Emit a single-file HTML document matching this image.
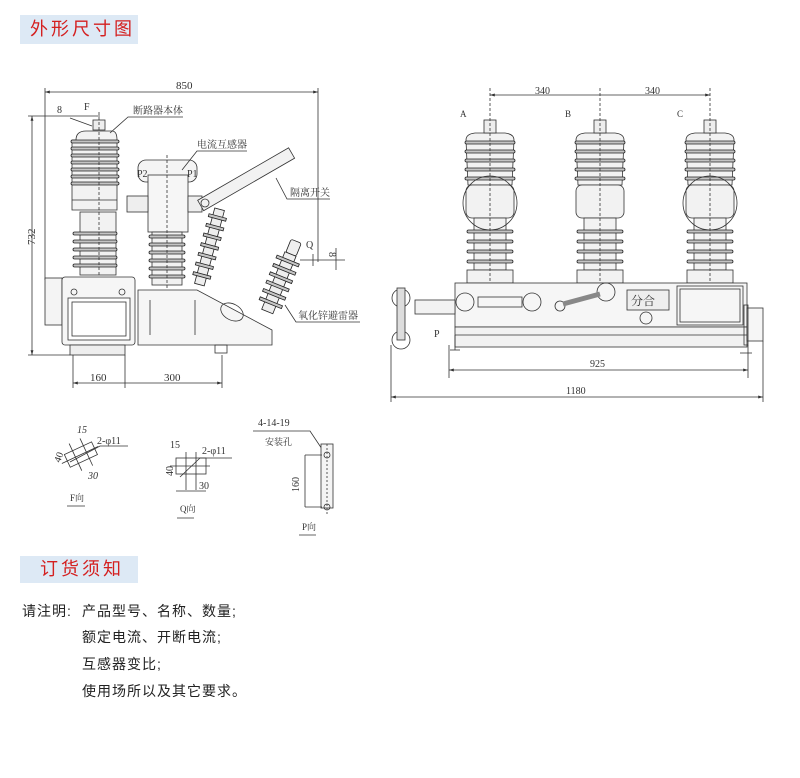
<!DOCTYPE html>
<html><head><meta charset="utf-8"><style>
body{margin:0;background:#fff;width:800px;height:778px;overflow:hidden;font-family:"Liberation Sans","Noto Sans CJK SC",sans-serif}
.hd{position:absolute;left:20px;width:118px;background:#dde9f5;color:#d42020;font-size:18px;letter-spacing:3px}
.t{position:absolute;font-size:14px;color:#222;letter-spacing:1px}
svg{position:absolute;left:0;top:0}
.fn rect{fill:#c4c4c4;stroke:#222}
</style></head><body>
<div class="hd" style="top:15px;height:29px;line-height:29px;padding-left:10px;width:108px">外形尺寸图</div>
<div class="hd" style="top:556px;height:27px;line-height:27px;padding-left:20px;width:98px">订货须知</div>
<div class="t" style="left:22px;top:601px">请注明:</div>
<div class="t" style="left:82px;top:601px">产品型号、名称、数量;</div>
<div class="t" style="left:82px;top:627px">额定电流、开断电流;</div>
<div class="t" style="left:82px;top:654px">互感器变比;</div>
<div class="t" style="left:82px;top:681px">使用场所以及其它要求。</div>
<svg width="800" height="778" viewBox="0 0 800 778" font-family="Liberation Serif,Noto Serif CJK SC,serif" font-size="10" fill="none" stroke="#333" stroke-width="0.8">
<defs>
<marker id="a" viewBox="0 0 10 10" refX="10" refY="5" markerWidth="6" markerHeight="6" orient="auto-start-reverse"><path d="M0,2L10,5L0,8z" fill="#333" stroke="none"/></marker>
</defs>
<g>
<line x1="45" y1="92" x2="318" y2="92" marker-start="url(#a)" marker-end="url(#a)"/>
<line x1="45" y1="88" x2="45" y2="280"/><line x1="318" y1="88" x2="318" y2="262"/>
<line x1="28" y1="116" x2="100" y2="116"/><line x1="28" y1="355" x2="70" y2="355"/>
<line x1="32" y1="116" x2="32" y2="355" marker-start="url(#a)" marker-end="url(#a)"/>
<text x="176" y="89" fill="#333" stroke="none" font-size="11">850</text>
<text x="0" y="0" fill="#333" stroke="none" font-size="11" transform="translate(35,245) rotate(-90)">732</text>
<text x="57" y="113" fill="#333" stroke="none">8</text><text x="84" y="110" fill="#333" stroke="none">F</text>
<line x1="70" y1="118" x2="92" y2="126"/>
<rect x="93" y="120" width="12" height="10" fill="#eee"/>
<path d="M76,140 Q76,131 86,131 L112,131 Q117,131 117,140 L117,210 L72,210 L72,140z" fill="#f2f2f2"/>
<g class="fn"><rect x="71" y="140" width="48" height="3" rx="1.5"/><rect x="71" y="147" width="48" height="3" rx="1.5"/><rect x="71" y="154" width="48" height="3" rx="1.5"/><rect x="71" y="161" width="48" height="3" rx="1.5"/><rect x="71" y="168" width="48" height="3" rx="1.5"/><rect x="71" y="175" width="48" height="3" rx="1.5"/><rect x="71" y="182" width="48" height="3" rx="1.5"/></g>
<line x1="72" y1="200" x2="117" y2="200"/>
<rect x="80" y="212" width="36" height="63" fill="#f2f2f2"/>
<g class="fn"><rect x="73" y="232" width="44" height="3" rx="1.5"/><rect x="73" y="240" width="44" height="3" rx="1.5"/><rect x="73" y="248" width="44" height="3" rx="1.5"/><rect x="73" y="256" width="44" height="3" rx="1.5"/><rect x="73" y="264" width="44" height="3" rx="1.5"/></g>
<line x1="99" y1="112" x2="99" y2="300" stroke-dasharray="3,2"/>
<rect x="45" y="278" width="17" height="47" fill="#f4f4f4"/>
<rect x="62" y="277" width="73" height="68" rx="3" fill="#f6f6f6"/>
<rect x="68" y="298" width="62" height="42" fill="#fff"/><rect x="72" y="302" width="54" height="34"/>
<rect x="70" y="345" width="55" height="10" fill="#eee"/>
<circle cx="74" cy="292" r="3"/><circle cx="122" cy="292" r="3"/>
<rect x="138" y="160" width="59" height="22" rx="8" fill="#f4f4f4"/>
<rect x="148" y="175" width="40" height="57" fill="#f6f6f6"/>
<text x="137" y="177" fill="#333" stroke="none">P2</text><text x="187" y="177" fill="#333" stroke="none">P1</text>
<rect x="127" y="196" width="21" height="16" fill="#eee"/><rect x="188" y="196" width="14" height="16" fill="#eee"/>
<rect x="152" y="232" width="30" height="53" fill="#f2f2f2"/>
<g class="fn"><rect x="149" y="235" width="36" height="3" rx="1.5"/><rect x="149" y="243" width="36" height="3" rx="1.5"/><rect x="149" y="251" width="36" height="3" rx="1.5"/><rect x="149" y="259" width="36" height="3" rx="1.5"/><rect x="149" y="267" width="36" height="3" rx="1.5"/><rect x="149" y="275" width="36" height="3" rx="1.5"/></g>
<line x1="167" y1="155" x2="167" y2="295" stroke-dasharray="3,2"/>
<path d="M138,290 L197,290 L272,330 L272,345 L138,345z" fill="#f6f6f6"/>
<line x1="150" y1="300" x2="150" y2="335"/><line x1="195" y1="300" x2="195" y2="335"/>
<rect x="215" y="345" width="12" height="8"/>
<ellipse cx="232" cy="312" rx="12" ry="8" transform="rotate(28 232 312)"/>
<g transform="rotate(-30 205 203)"><rect x="200" y="197" width="105" height="12" fill="#f2f2f2"/></g>
<circle cx="205" cy="203" r="4"/>
<g transform="rotate(15 210 245)" class="fn"><rect x="205" y="208" width="10" height="78" style="fill:#eee"/><rect x="201" y="215" width="18" height="3"/><rect x="201" y="225" width="18" height="3"/><rect x="201" y="235" width="18" height="3"/><rect x="201" y="245" width="18" height="3"/><rect x="201" y="255" width="18" height="3"/><rect x="201" y="265" width="18" height="3"/><rect x="201" y="275" width="18" height="3"/></g>
<g transform="rotate(22 280 280)" class="fn"><rect x="275" y="238" width="11" height="14" rx="2" style="fill:#eee"/><rect x="274" y="252" width="12" height="62" style="fill:#eee"/><rect x="268" y="258" width="24" height="3"/><rect x="268" y="267" width="24" height="3"/><rect x="268" y="276" width="24" height="3"/><rect x="268" y="285" width="24" height="3"/><rect x="268" y="294" width="24" height="3"/><rect x="268" y="303" width="24" height="3"/></g>
<line x1="300" y1="260" x2="345" y2="260"/><line x1="336" y1="248" x2="336" y2="270"/><line x1="313" y1="254" x2="313" y2="266"/>
<text x="306" y="248" fill="#333" stroke="none">Q</text><text x="0" y="0" fill="#333" stroke="none" transform="translate(329,252) rotate(90)">8</text>
<text x="133" y="114" fill="#333" stroke="none">断路器本体</text><polyline points="110,133 128,117 183,117"/>
<text x="197" y="148" fill="#333" stroke="none">电流互感器</text><polyline points="182,170 197,151 247,151"/>
<text x="290" y="196" fill="#333" stroke="none">隔离开关</text><polyline points="276,178 287,199 330,199"/>
<text x="298" y="319" fill="#333" stroke="none">氧化锌避雷器</text><polyline points="285,305 296,322 360,322"/>
<line x1="73" y1="355" x2="73" y2="388"/><line x1="125" y1="355" x2="125" y2="388"/><line x1="222" y1="355" x2="222" y2="388"/>
<line x1="73" y1="383" x2="222" y2="383" marker-start="url(#a)" marker-end="url(#a)"/>
<text x="90" y="381" fill="#333" stroke="none" font-size="11">160</text><text x="164" y="381" fill="#333" stroke="none" font-size="11">300</text>
</g>
<g id="pole">
<path d="M466,140 Q466,134 475,133 L505,133 Q514,134 514,140 L512,185 L468,185z" fill="#f2f2f2"/>
<rect x="484" y="120" width="12" height="13" fill="#eee"/>
<g class="fn"><rect x="465" y="141" width="50" height="3" rx="1.5"/><rect x="465" y="150" width="50" height="3" rx="1.5"/><rect x="465" y="159" width="50" height="3" rx="1.5"/><rect x="465" y="168" width="50" height="3" rx="1.5"/><rect x="465" y="177" width="50" height="3" rx="1.5"/></g>
<rect x="466" y="185" width="48" height="33" rx="6" fill="#f2f2f2"/>
<rect x="474" y="218" width="32" height="52" fill="#f2f2f2"/>
<g class="fn"><rect x="467" y="230" width="46" height="3" rx="1.5"/><rect x="467" y="240" width="46" height="3" rx="1.5"/><rect x="467" y="250" width="46" height="3" rx="1.5"/><rect x="467" y="260" width="46" height="3" rx="1.5"/></g>
<rect x="467" y="270" width="46" height="13" fill="#f2f2f2"/>
</g>
<use href="#pole" x="110"/><use href="#pole" x="220"/>
<circle cx="490" cy="203" r="27"/><circle cx="710" cy="203" r="27"/>
<line x1="490" y1="88" x2="490" y2="300" stroke-dasharray="3,2"/><line x1="600" y1="88" x2="600" y2="300" stroke-dasharray="3,2"/><line x1="710" y1="88" x2="710" y2="300" stroke-dasharray="3,2"/>
<line x1="490" y1="95" x2="710" y2="95" marker-start="url(#a)" marker-end="url(#a)"/>
<text x="535" y="94" fill="#333" stroke="none">340</text><text x="645" y="94" fill="#333" stroke="none">340</text>
<text x="460" y="117" fill="#333" stroke="none" font-size="9">A</text><text x="565" y="117" fill="#333" stroke="none" font-size="9">B</text><text x="677" y="117" fill="#333" stroke="none" font-size="9">C</text>
<rect x="455" y="283" width="292" height="44" fill="#f6f6f6"/>
<rect x="455" y="327" width="292" height="20" fill="#f2f2f2"/><line x1="455" y1="335" x2="747" y2="335"/>
<rect x="677" y="286" width="66" height="39"/><rect x="680" y="289" width="60" height="33"/>
<circle cx="465" cy="302" r="9"/><circle cx="532" cy="302" r="9"/><circle cx="606" cy="292" r="9"/><circle cx="560" cy="306" r="5"/>
<rect x="478" y="297" width="44" height="10"/>
<line x1="563" y1="304" x2="600" y2="294" stroke-width="5" stroke="#888"/>
<rect x="627" y="290" width="42" height="20" fill="#eee"/><text x="631" y="305" fill="#333" stroke="none" font-size="12">分合</text>
<circle cx="646" cy="318" r="6"/>
<rect x="415" y="300" width="40" height="14" fill="#f2f2f2"/>
<circle cx="401" cy="298" r="9"/><circle cx="401" cy="340" r="9"/><rect x="397" y="288" width="8" height="52" fill="#ddd"/>
<rect x="747" y="308" width="16" height="33" fill="#f6f6f6"/><rect x="744" y="305" width="4" height="40"/>
<line x1="450" y1="350" x2="460" y2="350"/><line x1="455" y1="335" x2="455" y2="350"/><line x1="740" y1="353" x2="752" y2="353"/>
<text x="434" y="337" fill="#333" stroke="none">P</text>
<line x1="449" y1="345" x2="449" y2="378"/><line x1="748" y1="345" x2="748" y2="378"/>
<line x1="449" y1="370" x2="748" y2="370" marker-start="url(#a)" marker-end="url(#a)"/>
<text x="590" y="367" fill="#333" stroke="none">925</text>
<line x1="391" y1="345" x2="391" y2="402"/><line x1="763" y1="341" x2="763" y2="402"/>
<line x1="391" y1="397" x2="763" y2="397" marker-start="url(#a)" marker-end="url(#a)"/>
<text x="566" y="394" fill="#333" stroke="none">1180</text>
<g>
<text x="77" y="433" fill="#333" stroke="none" font-style="italic">15</text><text x="97" y="444" fill="#333" stroke="none">2-φ11</text>
<polyline points="70,462 100,446 128,446"/>
<g transform="rotate(-25 80 455)"><rect x="66" y="448" width="30" height="14"/><line x1="60" y1="455" x2="100" y2="455"/><line x1="75" y1="440" x2="75" y2="470"/><line x1="87" y1="440" x2="87" y2="470"/></g>
<text x="0" y="0" fill="#333" stroke="none" transform="translate(60,463) rotate(-70)">40</text>
<text x="88" y="479" fill="#333" stroke="none" font-style="italic">30</text>
<text x="70" y="501" fill="#333" stroke="none" font-size="9">F向</text><line x1="67" y1="506" x2="85" y2="506"/>
<text x="170" y="448" fill="#333" stroke="none">15</text><text x="202" y="454" fill="#333" stroke="none">2-φ11</text>
<polyline points="180,477 200,458 232,458"/>
<rect x="176" y="458" width="30" height="16"/><line x1="170" y1="466" x2="210" y2="466"/><line x1="186" y1="452" x2="186" y2="490"/><line x1="196" y1="452" x2="196" y2="490"/>
<text x="0" y="0" fill="#333" stroke="none" transform="translate(173,476) rotate(-90)">40</text>
<text x="199" y="489" fill="#333" stroke="none">30</text><line x1="176" y1="491" x2="206" y2="491"/>
<text x="180" y="512" fill="#333" stroke="none" font-size="9">Q向</text><line x1="177" y1="518" x2="194" y2="518"/>
<text x="258" y="426" fill="#333" stroke="none">4-14-19</text><polyline points="253,431 310,431 326,455"/>
<text x="265" y="445" fill="#333" stroke="none" font-size="9">安装孔</text>
<rect x="321" y="444" width="12" height="64" fill="#f4f4f4"/><line x1="327" y1="444" x2="327" y2="515" stroke-dasharray="2,2"/>
<circle cx="327" cy="455" r="3"/><circle cx="327" cy="507" r="3"/>
<line x1="305" y1="455" x2="322" y2="455"/><line x1="305" y1="507" x2="322" y2="507"/><line x1="305" y1="455" x2="305" y2="507"/>
<text x="0" y="0" fill="#333" stroke="none" transform="translate(299,492) rotate(-90)">160</text>
<text x="302" y="530" fill="#333" stroke="none" font-size="9">P向</text><line x1="299" y1="535" x2="316" y2="535"/>
</g>
</svg>
</body></html>
